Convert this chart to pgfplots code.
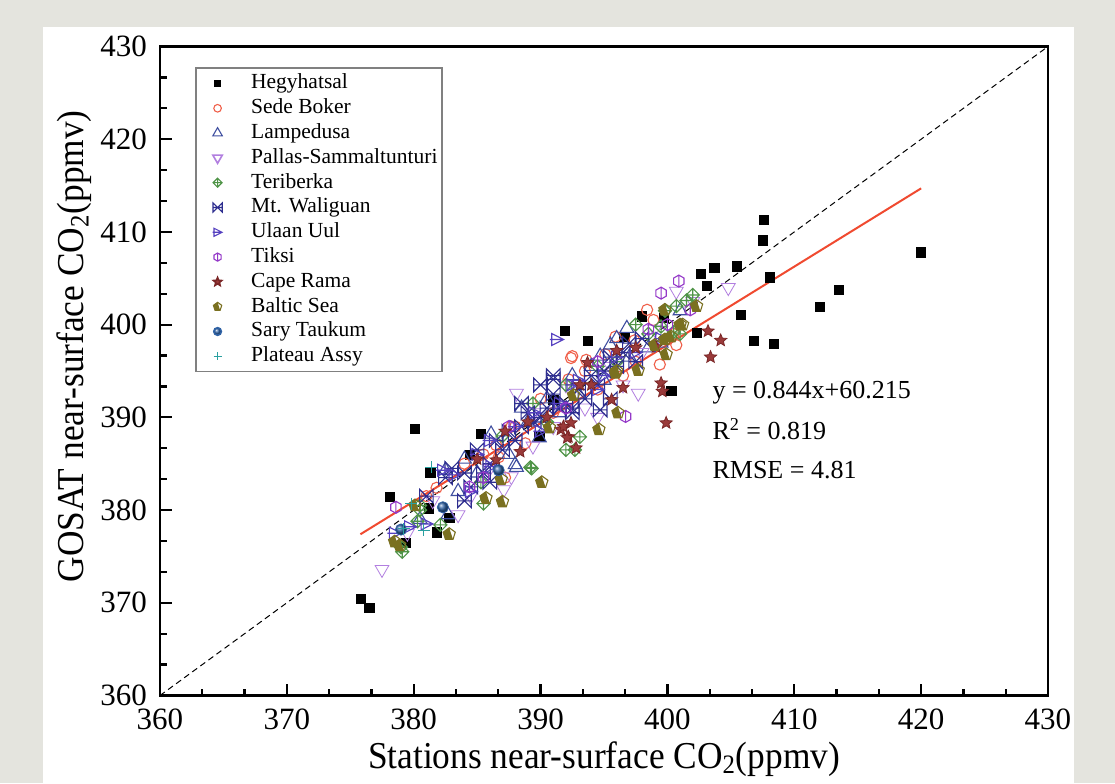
\documentclass[border=0pt]{standalone}
\usepackage{fontspec}
\setmainfont{Liberation Serif}
\newfontfamily\labelfont{Liberation Serif}[FakeStretch=0.93]
\usepackage{pgfplots}
\pgfplotsset{compat=1.18}
\usetikzlibrary{plotmarks}

\definecolor{bggray}{HTML}{E4E4DE}
\definecolor{cSede}{HTML}{F0604A}
\definecolor{cLamp}{HTML}{3F4FA0}
\definecolor{cPall}{HTML}{B27FE0}
\definecolor{cTeri}{HTML}{4F9447}
\definecolor{cWali}{HTML}{2D2D8F}
\definecolor{cUlaa}{HTML}{5540C0}
\definecolor{cTiks}{HTML}{9438C8}
\definecolor{cCape}{HTML}{7A2626}
\definecolor{cCapeF}{HTML}{9A3A3A}
\definecolor{cBalt}{HTML}{7A7020}
\definecolor{cSary}{HTML}{2F62A5}
\definecolor{cPlat}{HTML}{2AA0A0}
\definecolor{cReg}{HTML}{F04A30}

\pgfdeclareplotmark{bowx}{%
  \pgfpathmoveto{\pgfqpoint{-\pgfplotmarksize}{-\pgfplotmarksize}}%
  \pgfpathlineto{\pgfqpoint{\pgfplotmarksize}{\pgfplotmarksize}}%
  \pgfpathlineto{\pgfqpoint{\pgfplotmarksize}{-\pgfplotmarksize}}%
  \pgfpathlineto{\pgfqpoint{-\pgfplotmarksize}{\pgfplotmarksize}}%
  \pgfpathclose
  \pgfpathmoveto{\pgfqpoint{-\pgfplotmarksize}{0pt}}%
  \pgfpathlineto{\pgfqpoint{\pgfplotmarksize}{0pt}}%
  \pgfusepathqstroke}
\pgfdeclareplotmark{rtri}{%
  \pgfpathmoveto{\pgfqpoint{-0.8\pgfplotmarksize}{0.9\pgfplotmarksize}}%
  \pgfpathlineto{\pgfqpoint{\pgfplotmarksize}{0pt}}%
  \pgfpathlineto{\pgfqpoint{-0.8\pgfplotmarksize}{-0.9\pgfplotmarksize}}%
  \pgfpathclose
  \pgfpathmoveto{\pgfqpoint{-1.1\pgfplotmarksize}{0pt}}%
  \pgfpathlineto{\pgfqpoint{\pgfplotmarksize}{0pt}}%
  \pgfusepathqstroke}
\pgfdeclareplotmark{hexl}{%
  \pgfpathmoveto{\pgfqpointpolar{90}{\pgfplotmarksize}}%
  \pgfpathlineto{\pgfqpointpolar{150}{\pgfplotmarksize}}%
  \pgfpathlineto{\pgfqpointpolar{210}{\pgfplotmarksize}}%
  \pgfpathlineto{\pgfqpointpolar{270}{\pgfplotmarksize}}%
  \pgfpathlineto{\pgfqpointpolar{330}{\pgfplotmarksize}}%
  \pgfpathlineto{\pgfqpointpolar{30}{\pgfplotmarksize}}%
  \pgfpathclose
  \pgfpathmoveto{\pgfqpoint{0pt}{\pgfplotmarksize}}%
  \pgfpathlineto{\pgfqpoint{0pt}{-\pgfplotmarksize}}%
  \pgfusepathqstroke}
\pgfdeclareplotmark{dcross}{%
  \pgfpathmoveto{\pgfqpoint{0pt}{\pgfplotmarksize}}%
  \pgfpathlineto{\pgfqpoint{\pgfplotmarksize}{0pt}}%
  \pgfpathlineto{\pgfqpoint{0pt}{-\pgfplotmarksize}}%
  \pgfpathlineto{\pgfqpoint{-\pgfplotmarksize}{0pt}}%
  \pgfpathclose
  \pgfpathmoveto{\pgfqpoint{0pt}{\pgfplotmarksize}}%
  \pgfpathlineto{\pgfqpoint{0pt}{-\pgfplotmarksize}}%
  \pgfpathmoveto{\pgfqpoint{-\pgfplotmarksize}{0pt}}%
  \pgfpathlineto{\pgfqpoint{\pgfplotmarksize}{0pt}}%
  \pgfusepathqstroke}
\pgfdeclareplotmark{fstar}{%
  \pgfpathmoveto{\pgfqpointpolar{90}{\pgfplotmarksize}}%
  \pgfpathlineto{\pgfqpointpolar{126}{0.45\pgfplotmarksize}}%
  \pgfpathlineto{\pgfqpointpolar{162}{\pgfplotmarksize}}%
  \pgfpathlineto{\pgfqpointpolar{198}{0.45\pgfplotmarksize}}%
  \pgfpathlineto{\pgfqpointpolar{234}{\pgfplotmarksize}}%
  \pgfpathlineto{\pgfqpointpolar{270}{0.45\pgfplotmarksize}}%
  \pgfpathlineto{\pgfqpointpolar{306}{\pgfplotmarksize}}%
  \pgfpathlineto{\pgfqpointpolar{342}{0.45\pgfplotmarksize}}%
  \pgfpathlineto{\pgfqpointpolar{18}{\pgfplotmarksize}}%
  \pgfpathlineto{\pgfqpointpolar{54}{0.45\pgfplotmarksize}}%
  \pgfpathclose
  \pgfusepathqfillstroke}
\pgfdeclareplotmark{halfpent}{%
  \pgfpathmoveto{\pgfqpointpolar{90}{\pgfplotmarksize}}%
  \pgfpathlineto{\pgfqpointpolar{162}{\pgfplotmarksize}}%
  \pgfpathlineto{\pgfqpointpolar{234}{\pgfplotmarksize}}%
  \pgfpathlineto{\pgfqpointpolar{306}{\pgfplotmarksize}}%
  \pgfpathlineto{\pgfqpointpolar{18}{\pgfplotmarksize}}%
  \pgfpathclose
  \pgfusepathqstroke
  \pgfpathmoveto{\pgfqpointpolar{90}{\pgfplotmarksize}}%
  \pgfpathlineto{\pgfqpointpolar{162}{\pgfplotmarksize}}%
  \pgfpathlineto{\pgfqpointpolar{234}{\pgfplotmarksize}}%
  \pgfpathlineto{\pgfqpointpolar{306}{\pgfplotmarksize}}%
  \pgfpathlineto{\pgfqpoint{0.3\pgfplotmarksize}{0.05\pgfplotmarksize}}%
  \pgfpathclose
  \pgfusepathqfill}

\begin{document}
\begin{tikzpicture}
% background panel (1 px = 0.5 pt; axis box at origin)
\fill[bggray] (-80pt,-43.75pt) rectangle (477.5pt,347.75pt);
\fill[white] (-58.5pt,-43.75pt) rectangle (457pt,334.25pt);
\begin{axis}[
  scale only axis,
  width=444pt, height=324.5pt,
  xmin=360, xmax=430, ymin=360, ymax=430,
  xtick={360,370,...,430}, ytick={360,370,...,430},
  minor x tick num=2, minor y tick num=2,
  xtick pos=bottom, ytick pos=left,
  tick align=inside,
  major tick length=6pt, minor tick length=3.5pt,
  every tick/.style={black, line width=1.1pt},
  axis line style={line width=1.3pt},
  /pgf/number format/assume math mode=true,
  ticklabel style={font=\fontsize{15.5}{15.5}\selectfont},
  xticklabel style={yshift=-3pt},
  yticklabel style={xshift=-3pt},
  xlabel={Stations near-surface CO\textsubscript{2}(ppmv)},
  ylabel={GOSAT near-surface CO\textsubscript{2}(ppmv)},
  label style={font=\labelfont\fontsize{19}{19}\selectfont},
  xlabel style={at={(0.5,-0.112)}, anchor=base},
  ylabel style={at={(-0.0867,0.538)}, anchor=base},
  legend style={at={(0.0394,0.968)}, anchor=north west,
    draw=black!50, line width=0.8pt, inner sep=1.5pt,
    font=\fontsize{10.75}{12}\selectfont, row sep=0pt,
    nodes={text height=8pt, text depth=2.6pt, inner sep=0.9pt}},
  legend cell align=left,
  legend image code/.code={\path (-9pt,0pt) (15.5pt,0pt);\draw[#1] plot coordinates {(0pt,0pt)};},
  legend image post style={/tikz/every mark/.append style={scale=0.68}},
  every axis plot/.append style={only marks, mark options={line width=0.55pt}},
]
% Hegyhatsal
\addplot[mark=square*, mark size=2.3pt, black, mark options={line width=0.3pt}] coordinates {
(375.8,370.4) (376.5,369.5) (378.1,381.4) (379.4,376.5) (380.1,388.8) (381.3,384.0)
(381.2,380.2) (381.8,377.6) (382.8,379.2) (384.4,386.0) (385.3,388.2) (389.9,388.0)
(391.0,391.9) (391.9,399.3) (393.7,398.3) (396.6,398.7) (398.0,400.9) (399.7,400.7)
(400.3,392.9) (402.3,399.1) (402.6,405.5) (403.1,404.2) (403.7,406.1) (405.5,406.3)
(405.8,401.1) (406.8,398.3) (407.5,409.1) (407.6,411.3) (408.1,405.1) (408.4,397.9)
(412.0,401.9) (413.5,403.8) (420.0,407.8)
};
\addlegendentry{Hegyhatsal}
% Sede Boker
\addplot[mark=o, mark size=2.8pt, cSede] coordinates {
(392.5,396.6) (393.6,396.2) (392.2,394.1) (395.9,398.7) (398.4,401.6) (398.9,400.5)
(397.4,398.3) (393.5,395.0) (395.1,396.8) (400.7,397.8) (399.4,395.7) (388.0,389.0)
(386.5,387.0) (384.0,385.0) (390.0,392.0) (381.0,381.5) (396.5,394.5) (400.5,399.0)
(394.5,393.0) (391.0,390.5) (397.5,396.0) (385.5,386.0) (388.8,387.2) (381.8,382.4)
(387.2,383.5) (387.7,389.0) (392.4,396.4) (386.7,385.7)
};
\addlegendentry{Sede Boker}
% Lampedusa
\addplot[mark=triangle, mark size=4pt, cLamp] coordinates {
(386.1,388.2) (388.0,384.9) (382.7,379.5) (382.5,384.3) (389.9,387.8) (388.1,384.6)
(395.5,397.8) (396.8,399.6) (394.7,396.6) (384.0,385.5) (387.5,386.0) (389.0,389.5)
(391.5,390.5) (393.0,392.5) (395.0,394.0) (397.0,396.5) (398.5,397.5) (399.5,398.0)
(392.5,394.5) (385.0,384.0) (380.5,379.0) (383.5,382.0) (390.5,392.0) (388.5,391.0)
(396.0,398.5) (394.0,395.5) (401.0,401.5)
};
\addlegendentry{Lampedusa}
% Pallas-Sammaltunturi
\addplot[mark=triangle, mark size=4pt, cPall, mark options={rotate=180}] coordinates {
(377.5,373.6) (388.1,392.6) (383.5,379.5) (387.1,382.2) (387.7,383.6) (389.4,386.9)
(397.7,392.6) (400.7,403.6) (404.8,404.0) (391.0,389.0) (393.5,391.0) (395.5,395.5)
(398.0,397.0) (386.0,384.5) (384.5,381.5) (379.5,377.5) (389.5,390.5) (396.5,393.5)
(392.0,393.5) (399.0,399.5) (402.0,402.5) (381.5,381.0) (394.5,390.0)
};
\addlegendentry{Pallas-Sammaltunturi}
% Teriberka
\addplot[mark=dcross, mark size=3.3pt, cTeri] coordinates {
(389.4,391.5) (389.2,384.6) (393.1,387.9) (392.0,386.5) (392.7,386.5) (385.3,383.0)
(385.5,380.7) (382.1,378.4) (380.3,378.8) (380.5,380.0) (379.1,375.5) (389.3,384.5)
(397.5,400.0) (398.5,399.0) (399.8,401.5) (400.7,402.0) (401.5,402.6) (402.0,403.2)
(400.5,399.2) (399.5,399.8) (394.5,395.5) (392.0,393.5) (396.0,396.0) (387.0,388.0)
(390.5,389.5) (380.5,380.5) (379.0,376.0) (401.0,399.0)
};
\addlegendentry{Teriberka}
% Mt. Waliguan
\addplot[mark=bowx, mark size=3.4pt, cWali] coordinates {
(383.0,384.5) (384.0,384.0) (385.5,384.0) (386.0,385.0) (387.0,386.5) (387.5,388.5)
(388.0,387.5) (388.5,389.0) (389.0,390.5) (389.5,389.5) (390.0,390.0) (390.5,391.0)
(391.0,392.5) (391.5,391.0) (392.0,391.5) (392.5,390.5) (393.0,393.0) (393.5,392.0)
(394.0,394.5) (394.5,393.5) (395.0,395.0) (395.5,396.5) (396.0,395.5) (396.5,397.0)
(397.0,398.0) (397.5,396.0) (398.0,398.5) (386.5,387.5) (385.0,386.5) (384.5,382.5)
(382.5,383.5) (381.0,381.5) (388.5,391.5) (390.0,393.5) (391.0,394.5) (395.5,392.0)
(394.7,390.8) (392.5,391.0) (391.0,394.1) (386.0,383.0) (384.0,381.0)
};
\addlegendentry{Mt. Waliguan}
% Ulaan Uul
\addplot[mark=rtri, mark size=3.3pt, cUlaa] coordinates {
(391.3,398.4) (382.3,384.3) (383.2,383.8) (379.7,378.2) (386.1,384.7) (378.5,377.5)
(381.0,378.5) (384.5,382.0) (386.0,387.5) (388.0,389.0) (389.5,390.5) (391.5,391.5)
(393.0,394.0) (394.5,393.0) (396.0,396.5) (397.5,397.0) (399.5,398.5) (385.0,386.0)
(390.0,388.5) (392.5,393.5) (395.0,394.5)
};
\addlegendentry{Ulaan Uul}
% Tiksi
\addplot[mark=hexl, mark size=3pt, cTiks] coordinates {
(378.6,380.3) (384.4,382.5) (400.9,404.7) (399.5,403.4) (396.7,390.1) (401.8,401.6)
(392.0,391.0) (394.5,396.0) (398.5,399.5) (400.0,400.0) (387.5,389.0) (385.5,383.5)
};
\addlegendentry{Tiksi}
% Cape Rama
\addplot[mark=fstar, mark size=3.2pt, cCape, mark options={fill=cCapeF}] coordinates {
(403.2,399.3) (404.2,398.3) (403.4,396.5) (399.5,393.7) (399.6,392.8) (399.9,389.4)
(396.0,397.2) (393.7,395.9) (395.6,391.9) (392.4,389.4) (391.6,388.7) (392.2,387.9)
(392.8,386.7) (387.2,388.5) (392.1,387.8) (391.8,389.0) (386.5,385.4) (388.4,386.3)
(399.1,397.6) (396.5,393.2) (393.1,393.5) (385.0,385.5) (389.0,389.5) (390.5,390.0)
(394.0,393.5) (397.5,397.5)
};
\addlegendentry{Cape Rama}
% Baltic Sea
\addplot[mark=halfpent, mark size=3.2pt, cBalt] coordinates {
(390.1,383.0) (394.6,388.7) (390.7,388.9) (387.0,380.9) (385.7,381.3) (386.9,383.3)
(382.8,377.4) (378.9,376.2) (380.1,380.5) (396.1,390.5) (401.2,400.0) (399.8,398.4)
(399.9,396.8) (399.8,401.6) (399.0,397.8) (397.7,395.1) (396.0,395.0) (392.6,392.4)
(401.0,400.0) (400.3,398.7) (402.3,402.0) (395.9,394.8) (378.5,376.6)
};
\addlegendentry{Baltic Sea}
% Sary Taukum
\addplot[mark=ball, mark size=2.8pt, cSary, mark options={ball color=cSary}] coordinates {
(379.0,377.9) (382.3,380.3) (386.7,384.3)
};
\addlegendentry{Sary Taukum}
% Plateau Assy
\addplot[mark=+, mark size=3pt, cPlat] coordinates {
(381.4,384.6) (379.8,380.7) (380.8,377.8) (379.2,378.0)
};
\addlegendentry{Plateau Assy}
% 1:1 line and regression line
\addplot[forget plot, no marks, sharp plot, black, line width=0.5pt, dash pattern=on 3pt off 2pt] coordinates {(360,360) (430,430)};
\addplot[forget plot, no marks, sharp plot, cReg, line width=1pt] coordinates {(375.8,377.39) (420,414.70)};
\node[anchor=base west, font=\fontsize{13}{13}\selectfont] at (axis cs:403.0,392.06) {y = 0.844x+60.215};
\node[anchor=base west, font=\fontsize{13}{13}\selectfont] at (axis cs:403.0,387.6) {R\textsuperscript{2} = 0.819};
\node[anchor=base west, font=\fontsize{13}{13}\selectfont] at (axis cs:403.0,383.4) {RMSE = 4.81};
\end{axis}
\end{tikzpicture}
\end{document}
